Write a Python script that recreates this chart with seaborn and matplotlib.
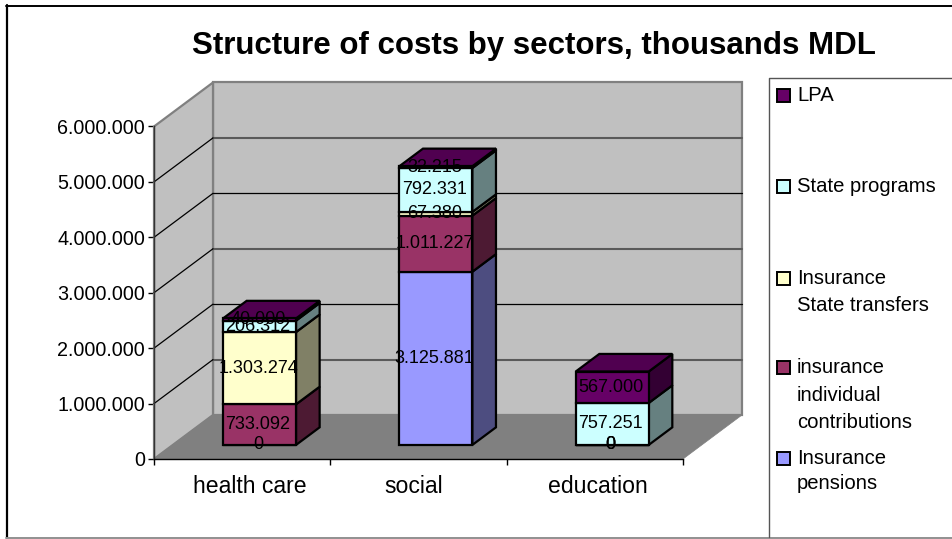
import matplotlib
matplotlib.use("Agg")
import matplotlib.pyplot as plt
from matplotlib.lines import Line2D
from matplotlib.patches import Polygon, Rectangle
from matplotlib.colors import to_rgb
from matplotlib.ticker import FuncFormatter
from matplotlib.transforms import Affine2D
import pandas as pd
import seaborn as sns

categories = ["health care", "social", "education"]
series_names = ["Insurance pensions", "insurance individual contributions",
                "Insurance State transfers", "State programs", "LPA"]
pensions = [0, 3125881, 0]
contributions = [733092, 1011227, 0]
transfers = [1303274, 67380, 0]
programs = [206312, 792331, 757251]
lpa = [40000, 32215, 567000]
series_values = [pensions, contributions, transfers, programs, lpa]
colors = ["#9999FF", "#993366", "#FFFFCC", "#CCFFFF", "#660066"]
y_ticks = [0, 1000000, 2000000, 3000000, 4000000, 5000000, 6000000]
legend_rows = [("#660066", ["LPA"], [94]),
               ("#CCFFFF", ["State programs"], [185]),
               ("#FFFFCC", ["Insurance", "State transfers"], [277, 304]),
               ("#993366", ["insurance", "individual", "contributions"], [366, 394, 421]),
               ("#9999FF", ["Insurance", "pensions"], [457, 482])]

W, H = 952, 539
sns.set_theme(style="white")
plt.rcParams["font.family"] = ["Liberation Sans", "DejaVu Sans"]

fig = plt.figure(figsize=(W / 100, H / 100), dpi=100)
left, right, top, bottom = 154, 683, 126.5, 459
ax = fig.add_axes([left / W, 1 - bottom / H, (right - left) / W, (bottom - top) / H])

# Oblique projection: depth runs from the front plane (0) to the back wall (1).
DEPTH_PX = (59, 44)
BAR_FRONT, BAR_BACK = 0.32, 0.72
BAR_NUDGE_PX = -1.5
BAR_WIDTH = 73 / ((right - left) / 3)
x_per_px = 3 / (right - left)
y_per_px = 6000000 / (bottom - top)


def project(x, y, d):
    return (x + d * DEPTH_PX[0] * x_per_px, y + d * DEPTH_PX[1] * y_per_px)


def shade(color, factor):
    return tuple(c * factor for c in to_rgb(color))


ax.set_xlim(-0.5, 2.5)
ax.set_ylim(0, 6000000)

# Walls and floor
x0, x1, ymax = -0.5, 2.5, 6000000
wall_style = dict(edgecolor="#808080", linewidth=1.6, clip_on=False, zorder=1)
ax.add_patch(Polygon([project(x0, 0, 1), project(x1, 0, 1), project(x1, ymax, 1), project(x0, ymax, 1)],
                     facecolor="#C0C0C0", **wall_style))
ax.add_patch(Polygon([project(x0, 0, 0), project(x0, 0, 1), project(x0, ymax, 1), project(x0, ymax, 0)],
                     facecolor="#C0C0C0", **wall_style))
ax.add_patch(Polygon([project(x0, 0, 0), project(x1, 0, 0), project(x1, 0, 1), project(x0, 0, 1)],
                     facecolor="#808080", edgecolor="#808080", linewidth=0.5, clip_on=False, zorder=1))

for i, tick in enumerate(y_ticks[1:-1], start=1):
    back_color, back_lw = ("#5A5A5A", 1.5) if i % 2 else ("black", 0.9)
    ax.plot(*zip(project(x0, tick, 1), project(x1, tick, 1)), color=back_color,
            lw=back_lw, clip_on=False, zorder=1.5)
    ax.plot(*zip(project(x0, tick, 0), project(x0, tick, 1)), color="black",
            lw=0.9, clip_on=False, zorder=1.5)

# Front faces of the stacks, moved back onto their depth position
frame = pd.DataFrame(dict(zip(series_names, series_values)), index=categories)
shift = Affine2D().translate(BAR_FRONT * DEPTH_PX[0] + BAR_NUDGE_PX, BAR_FRONT * DEPTH_PX[1])
base = [0, 0, 0]
bases = []
for name, color in zip(series_names, colors):
    before = len(ax.patches)
    sns.barplot(x=frame.index, y=frame[name].values, bottom=base, color=color, saturation=1,
                width=BAR_WIDTH, edgecolor="black", linewidth=1.6, ax=ax, zorder=3, clip_on=False)
    for patch in ax.patches[before:]:
        patch.set_transform(ax.transData + shift)
    bases.append(list(base))
    base = [b + v for b, v in zip(base, frame[name].values)]

# Side faces and the closing top of each stack
edge = dict(edgecolor="black", linewidth=1.6, clip_on=False, zorder=2.5)
half = BAR_WIDTH / 2
nudge = BAR_NUDGE_PX * x_per_px
for c in range(len(categories)):
    xr = c + half + nudge
    xl = c - half + nudge
    for s, color in enumerate(colors):
        value = series_values[s][c]
        if value == 0:
            continue
        y0, y1 = bases[s][c], bases[s][c] + value
        ax.add_patch(Polygon([project(xr, y0, BAR_FRONT), project(xr, y0, BAR_BACK),
                              project(xr, y1, BAR_BACK), project(xr, y1, BAR_FRONT)],
                             facecolor=shade(color, 0.5), **edge))
    ytop = base[c]
    ax.add_patch(Polygon([project(xl, ytop, BAR_FRONT), project(xr, ytop, BAR_FRONT),
                          project(xr, ytop, BAR_BACK), project(xl, ytop, BAR_BACK)],
                         facecolor=shade(colors[-1], 0.78), **edge))

# Value labels centred on each front face
for c in range(len(categories)):
    for s in range(len(colors)):
        value = series_values[s][c]
        ax.annotate(f"{value:,}".replace(",", "."),
                    xy=project(c + nudge * 2, bases[s][c] + value / 2, BAR_FRONT),
                    ha="center", va="center", fontsize=13, color="black", zorder=5,
                    annotation_clip=False)

# Axes
sns.despine(ax=ax, top=True, right=True)
ax.spines["left"].set_color("#333333")
ax.spines["bottom"].set_color("black")
for side in ("left", "bottom"):
    ax.spines[side].set_linewidth(1.0)
    ax.spines[side].set_zorder(2)
ax.patch.set_visible(False)
ax.set_xlabel("")
ax.set_ylabel("")
ax.set_yticks(y_ticks)
ax.yaxis.set_major_formatter(FuncFormatter(lambda v, _: f"{int(v):,}".replace(",", ".")))
ax.set_xticks([-0.5, 0.5, 1.5, 2.5], minor=False)
ax.set_xticklabels([])
ax.tick_params(axis="both", direction="out", length=4.5, width=1, color="black", left=True, bottom=True)
ax.tick_params(axis="y", labelsize=14.2, pad=2, labelcolor="black")
label_offsets_px = [8, -4.5, 3]
for i, name in enumerate(categories):
    ax.annotate(name, xy=(i, 0), xytext=(label_offsets_px[i] * 0.72, -11.5), textcoords="offset points",
                ha="center", va="top", fontsize=16.6, color="black", annotation_clip=False)

# Title, chart frame and key
fig.text(534 / W, 1 - 46 / H, "Structure of costs by sectors, thousands MDL", ha="center", va="center",
         fontsize=22.5, fontweight="bold", color="black")
frame_lines = [((6.5, 6.5), (5, 538), "black", 1.6),
               ((6, W), (5.5, 5.5), "black", 1.4),
               ((6, W), (538, 538), "#909090", 1.4)]
for xs, ys, color, lw in frame_lines:
    fig.add_artist(Line2D([x / W for x in xs], [1 - y / H for y in ys], transform=fig.transFigure,
                          color=color, lw=lw))
fig.add_artist(Line2D([768.5 / W, 768.5 / W, 1], [1 - 537 / H, 1 - 77.5 / H, 1 - 77.5 / H],
                      transform=fig.transFigure, color="#555555", lw=1.0))
for color, lines, ys in legend_rows:
    fig.add_artist(Rectangle((776.5 / W, 1 - (ys[0] + 8) / H), 13 / W, 13 / H, transform=fig.transFigure,
                             facecolor=color, edgecolor="black", linewidth=1.4))
    for line, y in zip(lines, ys):
        fig.text(797 / W, 1 - (y + 1.5) / H, line, ha="left", va="center", fontsize=14.6, color="black")

fig.savefig("out.png", dpi=100, facecolor="white")
